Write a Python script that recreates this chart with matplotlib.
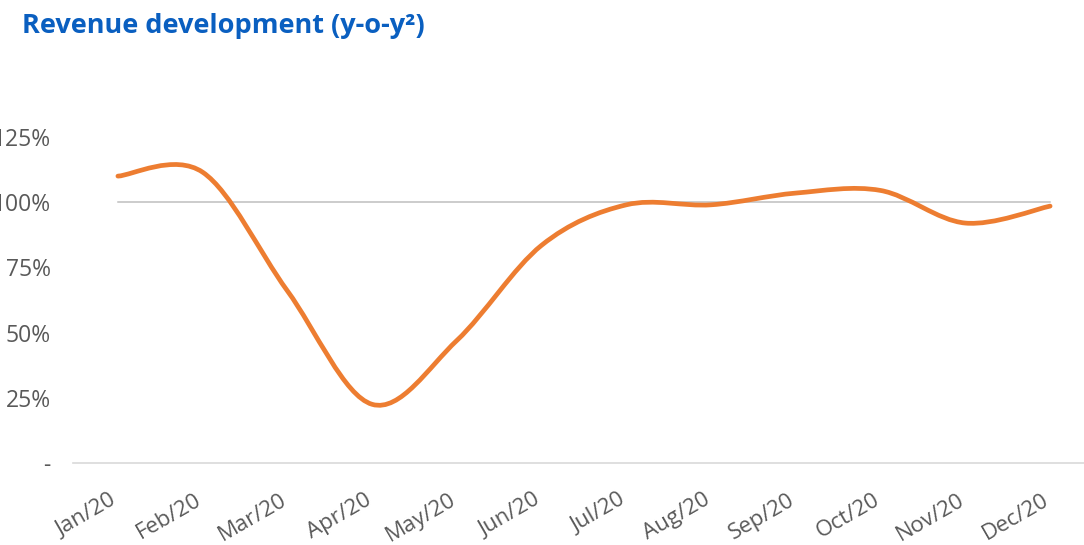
import numpy as np
import matplotlib.pyplot as plt
import matplotlib.transforms as mtransforms
from matplotlib.path import Path
from matplotlib.patches import PathPatch

months = ["Jan/20", "Feb/20", "Mar/20", "Apr/20", "May/20", "Jun/20",
          "Jul/20", "Aug/20", "Sep/20", "Oct/20", "Nov/20", "Dec/20"]
revenue = [1.10, 1.115, 0.66, 0.225, 0.47, 0.835,
           0.99, 0.99, 1.035, 1.045, 0.92, 0.985]
baseline = [1.0] * 12

y_ticks = [0, 0.25, 0.5, 0.75, 1.0, 1.25]
y_labels = ["-", "25%", "50%", "75%", "100%", "125%"]

plt.rcParams['font.family'] = ['Open Sans', 'DejaVu Sans']


def smooth_path(xs, ys):
    # Excel-style smoothed line: cubic Bezier through the points (Catmull-Rom tangents)
    pts = np.column_stack([xs, ys])
    verts = [pts[0]]
    codes = [Path.MOVETO]
    n = len(pts)
    for i in range(n - 1):
        p0 = pts[i - 1] if i > 0 else pts[i]
        p1 = pts[i]
        p2 = pts[i + 1]
        p3 = pts[i + 2] if i + 2 < n else pts[i + 1]
        c1 = p1 + (p2 - p0) / 6
        c2 = p2 - (p3 - p1) / 6
        verts += [c1, c2, p2]
        codes += [Path.CURVE4] * 3
    return Path(verts, codes)


fig = plt.figure(figsize=(10.84, 5.45), dpi=100)
W, H = 1084, 545
ax = fig.add_axes([73 / W, 1 - 463 / H, (W - 73) / W, (463 - 137) / H])

x = np.arange(len(months))
ax.plot(x, baseline, color="#BFBFBF", linewidth=1.1, zorder=2)
ax.add_patch(PathPatch(smooth_path(x, revenue), facecolor="none",
                       edgecolor="#ED7D31", linewidth=3.4,
                       capstyle="round", zorder=3))

ax.set_xlim(-0.53, 11.4)
ax.set_ylim(0, 1.25)

for s in ["top", "right", "left"]:
    ax.spines[s].set_visible(False)
ax.spines["bottom"].set_color("#D9D9D9")
ax.spines["bottom"].set_linewidth(1.2)

ax.set_yticks(y_ticks)
ax.set_yticklabels(y_labels, fontsize=16.5, color="#595959")
ax.tick_params(axis="y", length=0, pad=16)

ax.set_xticks(x)
ax.set_xticklabels(months, fontsize=16, color="#595959",
                   rotation=30, ha="right", va="top", rotation_mode="anchor")
ax.tick_params(axis="x", length=0, pad=19)
# nudge rotated labels a little left so they end at the tick, like the original
shift = mtransforms.ScaledTranslation(-8 / 100, 0, fig.dpi_scale_trans)
for lbl in ax.get_xticklabels():
    lbl.set_transform(lbl.get_transform() + shift)

fig.text(22 / W, 1 - 33 / H, "Revenue development (y-o-y²)",
         fontsize=19.5, fontweight="bold", color="#0A5FC0", ha="left", va="baseline")

fig.savefig("out.png", dpi=100)
